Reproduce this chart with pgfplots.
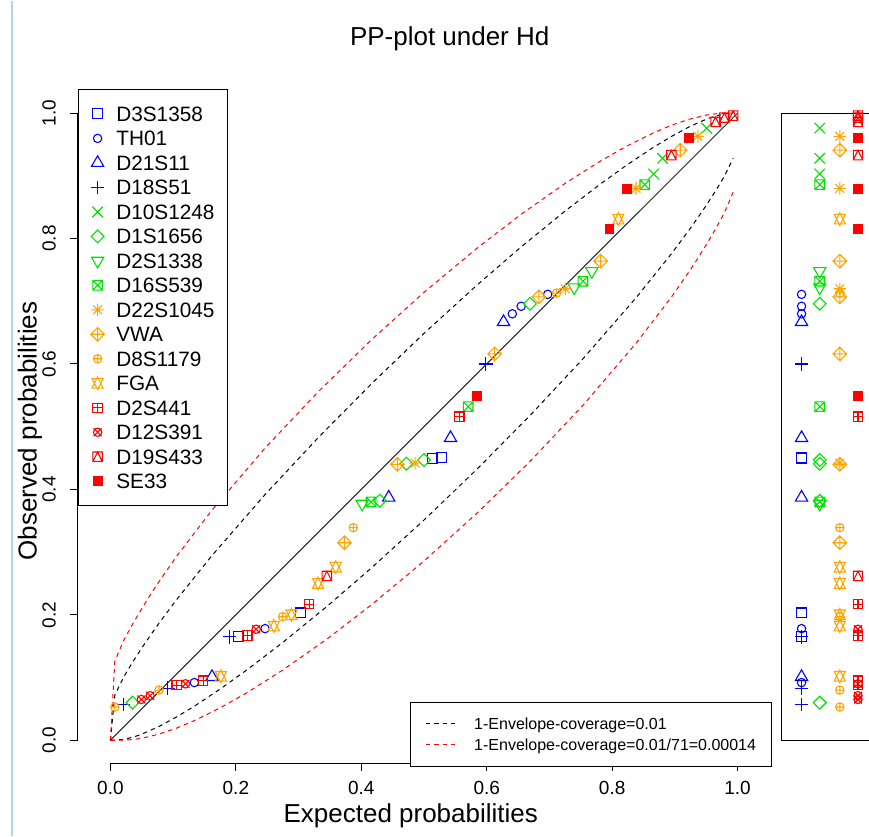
\documentclass[border=0pt]{standalone}
\usepackage{fontspec}
\setmainfont{Liberation Sans}
\usepackage{pgfplots}
\usepackage{pgfplotstable}
\pgfplotsset{compat=1.18}
\usetikzlibrary{plotmarks}

\definecolor{Rblue}{RGB}{0,0,255}
\definecolor{Rgreen}{RGB}{0,225,0}
\definecolor{Rorange}{RGB}{255,165,0}
\definecolor{Rred}{RGB}{255,0,0}
\definecolor{edgeblue}{RGB}{175,212,240}

\pgfdeclareplotmark{Rdiamond}{%
 \pgfpathmoveto{\pgfqpoint{0pt}{\pgfplotmarksize}}%
 \pgfpathlineto{\pgfqpoint{\pgfplotmarksize}{0pt}}%
 \pgfpathlineto{\pgfqpoint{0pt}{-\pgfplotmarksize}}%
 \pgfpathlineto{\pgfqpoint{-\pgfplotmarksize}{0pt}}%
 \pgfpathclose\pgfusepathqstroke}
\pgfdeclareplotmark{Rdplus}{%
 \pgfpathmoveto{\pgfqpoint{0pt}{\pgfplotmarksize}}%
 \pgfpathlineto{\pgfqpoint{\pgfplotmarksize}{0pt}}%
 \pgfpathlineto{\pgfqpoint{0pt}{-\pgfplotmarksize}}%
 \pgfpathlineto{\pgfqpoint{-\pgfplotmarksize}{0pt}}%
 \pgfpathclose
 \pgfpathmoveto{\pgfqpoint{0pt}{\pgfplotmarksize}}\pgfpathlineto{\pgfqpoint{0pt}{-\pgfplotmarksize}}%
 \pgfpathmoveto{\pgfqpoint{-\pgfplotmarksize}{0pt}}\pgfpathlineto{\pgfqpoint{\pgfplotmarksize}{0pt}}%
 \pgfusepathqstroke}
\pgfdeclareplotmark{Rdown}{%
 \pgfpathmoveto{\pgfqpoint{0pt}{-\pgfplotmarksize}}%
 \pgfpathlineto{\pgfqpoint{.8660254\pgfplotmarksize}{.5\pgfplotmarksize}}%
 \pgfpathlineto{\pgfqpoint{-.8660254\pgfplotmarksize}{.5\pgfplotmarksize}}%
 \pgfpathclose\pgfusepathqstroke}
\pgfdeclareplotmark{Rsqx}{%
 \pgfpathrectangle{\pgfqpoint{-\pgfplotmarksize}{-\pgfplotmarksize}}{\pgfqpoint{2\pgfplotmarksize}{2\pgfplotmarksize}}%
 \pgfpathmoveto{\pgfqpoint{-\pgfplotmarksize}{-\pgfplotmarksize}}\pgfpathlineto{\pgfqpoint{\pgfplotmarksize}{\pgfplotmarksize}}%
 \pgfpathmoveto{\pgfqpoint{-\pgfplotmarksize}{\pgfplotmarksize}}\pgfpathlineto{\pgfqpoint{\pgfplotmarksize}{-\pgfplotmarksize}}%
 \pgfusepathqstroke}
\pgfdeclareplotmark{Rsqplus}{%
 \pgfpathrectangle{\pgfqpoint{-\pgfplotmarksize}{-\pgfplotmarksize}}{\pgfqpoint{2\pgfplotmarksize}{2\pgfplotmarksize}}%
 \pgfpathmoveto{\pgfqpoint{0pt}{-\pgfplotmarksize}}\pgfpathlineto{\pgfqpoint{0pt}{\pgfplotmarksize}}%
 \pgfpathmoveto{\pgfqpoint{-\pgfplotmarksize}{0pt}}\pgfpathlineto{\pgfqpoint{\pgfplotmarksize}{0pt}}%
 \pgfusepathqstroke}
\pgfdeclareplotmark{Rsqtri}{%
 \pgfpathrectangle{\pgfqpoint{-\pgfplotmarksize}{-\pgfplotmarksize}}{\pgfqpoint{2\pgfplotmarksize}{2\pgfplotmarksize}}%
 \pgfpathmoveto{\pgfqpoint{-\pgfplotmarksize}{-\pgfplotmarksize}}%
 \pgfpathlineto{\pgfqpoint{0pt}{\pgfplotmarksize}}%
 \pgfpathlineto{\pgfqpoint{\pgfplotmarksize}{-\pgfplotmarksize}}%
 \pgfusepathqstroke}
\pgfdeclareplotmark{Rast}{%
 \pgfpathmoveto{\pgfqpoint{0pt}{-\pgfplotmarksize}}\pgfpathlineto{\pgfqpoint{0pt}{\pgfplotmarksize}}%
 \pgfpathmoveto{\pgfqpoint{-\pgfplotmarksize}{0pt}}\pgfpathlineto{\pgfqpoint{\pgfplotmarksize}{0pt}}%
 \pgfpathmoveto{\pgfqpoint{-.7071\pgfplotmarksize}{-.7071\pgfplotmarksize}}\pgfpathlineto{\pgfqpoint{.7071\pgfplotmarksize}{.7071\pgfplotmarksize}}%
 \pgfpathmoveto{\pgfqpoint{-.7071\pgfplotmarksize}{.7071\pgfplotmarksize}}\pgfpathlineto{\pgfqpoint{.7071\pgfplotmarksize}{-.7071\pgfplotmarksize}}%
 \pgfusepathqstroke}
\pgfdeclareplotmark{Rdavid}{%
 \pgfpathmoveto{\pgfqpoint{0pt}{\pgfplotmarksize}}%
 \pgfpathlineto{\pgfqpoint{.866\pgfplotmarksize}{-.75\pgfplotmarksize}}%
 \pgfpathlineto{\pgfqpoint{-.866\pgfplotmarksize}{-.75\pgfplotmarksize}}%
 \pgfpathclose
 \pgfpathmoveto{\pgfqpoint{0pt}{-\pgfplotmarksize}}%
 \pgfpathlineto{\pgfqpoint{.866\pgfplotmarksize}{.75\pgfplotmarksize}}%
 \pgfpathlineto{\pgfqpoint{-.866\pgfplotmarksize}{.75\pgfplotmarksize}}%
 \pgfpathclose\pgfusepathqstroke}
\pgfdeclareplotmark{Rotimes}{%
 \pgfpathcircle{\pgfpointorigin}{\pgfplotmarksize}%
 \pgfpathmoveto{\pgfqpoint{-.95\pgfplotmarksize}{-.95\pgfplotmarksize}}\pgfpathlineto{\pgfqpoint{.95\pgfplotmarksize}{.95\pgfplotmarksize}}%
 \pgfpathmoveto{\pgfqpoint{-.95\pgfplotmarksize}{.95\pgfplotmarksize}}\pgfpathlineto{\pgfqpoint{.95\pgfplotmarksize}{-.95\pgfplotmarksize}}%
 \pgfusepathqstroke}

\pgfplotsset{
  mk/.style={only marks, mark options={solid,line width=0.55pt},
    legend image code/.code={\draw[##1] plot coordinates {(0pt,0pt)};}},
  sA/.style={mk,Rblue,mark=square,mark size=2.5pt},
  sB/.style={mk,Rblue,mark=o,mark size=2.1pt},
  sC/.style={mk,Rblue,mark=triangle,mark size=3.55pt},
  sD/.style={mk,Rblue,mark=+,mark size=3.4pt},
  sE/.style={mk,Rgreen,mark=x,mark size=3.7pt},
  sF/.style={mk,Rgreen,mark=Rdiamond,mark size=3.2pt},
  sG/.style={mk,Rgreen,mark=Rdown,mark size=3.55pt},
  sH/.style={mk,Rgreen,mark=Rsqx,mark size=2.4pt},
  sI/.style={mk,Rorange,mark=Rast,mark size=3.1pt},
  sJ/.style={mk,Rorange,mark=Rdplus,mark size=3.4pt},
  sK/.style={mk,Rorange,mark=oplus,mark size=2.1pt},
  sL/.style={mk,Rorange,mark=Rdavid,mark size=3.2pt},
  sM/.style={mk,Rred,mark=Rsqplus,mark size=2.35pt},
  sN/.style={mk,Rred,mark=Rotimes,mark size=2.1pt},
  sO/.style={mk,Rred,mark=Rsqtri,mark size=2.35pt},
  sP/.style={mk,Rred,mark=square*,mark size=2.2pt},
  env/.style={line width=0.5pt, dash pattern=on 2.2pt off 2pt},
}

% ---- data: x = expected, y = observed, s = strip position
\pgfplotstableread{
x y s
0.2042 0.166 1.102
0.3028 0.203 1.102
0.5141 0.449 1.102
0.5282 0.451 1.102
}\tA
\pgfplotstableread{
x y s
0.1338 0.092 1.102
0.2465 0.178 1.102
0.6408 0.680 1.102
0.6549 0.692 1.102
0.6972 0.711 1.102
}\tB
\pgfplotstableread{
x y s
0.1620 0.101 1.102
0.4437 0.387 1.102
0.5423 0.482 1.102
0.6268 0.667 1.102
}\tC
\pgfplotstableread{
x y s
0.0211 0.057 1.102
0.0915 0.083 1.102
0.1901 0.165 1.102
0.5986 0.600 1.102
}\tD
\pgfplotstableread{
x y s
0.8662 0.903 1.131
0.8803 0.928 1.131
0.9507 0.976 1.131
}\tE
\pgfplotstableread{
x y s
0.0352 0.060 1.131
0.4296 0.382 1.131
0.4718 0.441 1.131
0.5000 0.447 1.131
0.6690 0.696 1.131
}\tF
\pgfplotstableread{
x y s
0.4014 0.377 1.131
0.7394 0.722 1.131
0.7676 0.748 1.131
}\tG
\pgfplotstableread{
x y s
0.4155 0.380 1.131
0.5704 0.532 1.131
0.7535 0.732 1.131
0.8521 0.886 1.131
}\tH
\pgfplotstableread{
x y s
0.4859 0.442 1.163
0.7254 0.720 1.163
0.8380 0.880 1.163
0.9366 0.963 1.163
}\tI
\pgfplotstableread{
x y s
0.3732 0.315 1.163
0.4577 0.440 1.163
0.6127 0.616 1.163
0.6831 0.707 1.163
0.7817 0.764 1.163
0.9085 0.941 1.163
}\tJ
\pgfplotstableread{
x y s
0.0070 0.053 1.163
0.0775 0.080 1.163
0.2746 0.197 1.163
0.3873 0.339 1.163
0.7113 0.713 1.163
}\tK
\pgfplotstableread{
x y s
0.1761 0.102 1.163
0.2606 0.182 1.163
0.2887 0.200 1.163
0.3310 0.250 1.163
0.3592 0.276 1.163
0.8099 0.831 1.163
}\tL
\pgfplotstableread{
x y s
0.1056 0.088 1.192
0.1479 0.095 1.192
0.2183 0.167 1.192
0.3169 0.217 1.192
0.5563 0.516 1.192
}\tM
\pgfplotstableread{
x y s
0.0493 0.065 1.192
0.0634 0.071 1.192
0.1197 0.090 1.192
0.2324 0.177 1.192
}\tN
\pgfplotstableread{
x y s
0.3451 0.262 1.192
0.8944 0.933 1.192
0.9648 0.986 1.192
0.9789 0.993 1.192
0.9930 0.996 1.192
}\tO
\pgfplotstableread{
x y s
0.5845 0.549 1.192
0.7958 0.815 1.192
0.8239 0.879 1.192
0.9225 0.960 1.192
}\tP

% ---- envelopes
\pgfplotstableread{
x y
0 0
0.0070 0.0719
0.0211 0.1009
0.0352 0.1242
0.0493 0.1461
0.0634 0.1668
0.0775 0.1867
0.1056 0.2244
0.1620 0.2946
0.2465 0.3917
0.3310 0.4822
0.4155 0.5677
0.5000 0.6488
0.5845 0.7258
0.6549 0.7867
0.7254 0.8442
0.7817 0.8873
0.8239 0.9176
0.8662 0.9457
0.8944 0.9627
0.9225 0.9780
0.9507 0.9906
0.9648 0.9953
0.9789 0.9986
0.9930 0.9999
}\BU
\pgfplotstableread{
x y
0 0
0.0070 0.0001
0.0211 0.0014
0.0352 0.0047
0.0493 0.0094
0.0775 0.0220
0.1056 0.0373
0.1338 0.0543
0.1761 0.0824
0.2183 0.1127
0.2746 0.1558
0.3451 0.2133
0.4155 0.2742
0.5000 0.3512
0.5845 0.4323
0.6690 0.5178
0.7535 0.6083
0.8380 0.7054
0.8944 0.7756
0.9225 0.8133
0.9366 0.8332
0.9507 0.8539
0.9648 0.8758
0.9789 0.8991
0.9930 0.9281
}\BL
\pgfplotstableread{
x y
0 0
0.0070 0.1260
0.0211 0.1590
0.0352 0.1850
0.0493 0.2088
0.0634 0.2316
0.0775 0.2531
0.1056 0.2935
0.1620 0.3671
0.2465 0.4659
0.3310 0.5554
0.4155 0.6379
0.5000 0.7142
0.5845 0.7846
0.6549 0.8387
0.7254 0.8882
0.7817 0.9238
0.8239 0.9478
0.8662 0.9687
0.8944 0.9806
0.9225 0.9902
0.9507 0.9970
0.9648 0.9989
0.9789 0.9999
0.9930 1.0000
}\RU
\pgfplotstableread{
x y
0 0
0.0070 0.0000
0.0211 0.0001
0.0352 0.0011
0.0493 0.0030
0.0775 0.0098
0.1056 0.0194
0.1338 0.0313
0.1761 0.0523
0.2183 0.0762
0.2746 0.1119
0.3451 0.1613
0.4155 0.2154
0.5000 0.2858
0.5845 0.3621
0.6690 0.4446
0.7535 0.5341
0.8380 0.6329
0.8944 0.7065
0.9225 0.7469
0.9366 0.7685
0.9507 0.7912
0.9648 0.8150
0.9789 0.8410
0.9930 0.8740
}\RL

\begin{document}
\begin{tikzpicture}
\begin{axis}[
  name=env,
  at={(0,0)}, anchor=south west,
  scale only axis, width=395.57pt, height=338.25pt,
  xmin=-0.052, xmax=1.20876, ymin=-0.0375, ymax=1.0406,
  enlargelimits=false, clip=false,
  axis lines*=left, axis line style={draw=none},
  tick align=outside, major tick length=3.75pt,
  tick style={black, line width=0.5pt},
  xtick={0,0.2,0.4,0.6,0.8,1}, xticklabels={0.0,0.2,0.4,0.6,0.8,1.0},
  ytick={0,0.2,0.4,0.6,0.8,1}, yticklabels={0.0,0.2,0.4,0.6,0.8,1.0},
  xticklabel style={font=\fontsize{9.5}{11}\selectfont, inner sep=0pt, anchor=north},
  yticklabel style={font=\fontsize{9.5}{11}\selectfont, inner sep=0pt, rotate=90, anchor=south},
  xticklabel shift=4.75pt, yticklabel shift=7pt,
  legend cell align=left,
  legend image code/.code={\draw[#1] (0pt,0pt) -- (16.5pt,0pt);},
  legend style={at={(0.41983,0.09169)}, anchor=north west, draw=black, line width=0.5pt,
    inner xsep=7.5pt, inner ysep=5.6pt, font=\fontsize{8}{9.6}\selectfont, row sep=0pt,
    nodes={inner sep=0pt, text height=8.04pt, text depth=2.31pt},
    /tikz/every odd column/.append style={column sep=7.5pt}},
]
\path (axis cs:-0.176096,-0.152191) rectangle (axis cs:1.208765,1.178486);
\draw[edgeblue, line width=1.2pt] (axis cs:-0.15697,-0.152191) -- (axis cs:-0.15697,1.178486);
\draw[line width=0.5pt] (axis cs:-0.052,0) -- (axis cs:-0.052,1);
\draw[line width=0.5pt] (axis cs:0,-0.0375) -- (axis cs:1,-0.0375);
\draw[line width=0.5pt] (axis cs:1.20876,1.0) -- (axis cs:1.070,1.0) -- (axis cs:1.070,0.0) -- (axis cs:1.20876,0.0);

\addplot[black, env] table[x=x,y=y] {\BU};
\addlegendentry{1-Envelope-coverage=0.01}
\addplot[Rred, env] table[x=x,y=y] {\RU};
\addlegendentry{1-Envelope-coverage=0.01/71=0.00014}
\addplot[black, env, forget plot] table[x=x,y=y] {\BL};
\addplot[Rred, env, forget plot] table[x=x,y=y] {\RL};
\addplot[black!85, line width=0.5pt, forget plot] coordinates {(0,0) (1,1)};

\node[font=\fontsize{13}{15}\selectfont] at (axis cs:0.5410,1.1179) {PP-plot under Hd};
\node[font=\fontsize{13}{15}\selectfont] at (axis cs:0.4789,-0.1203) {Expected probabilities};
\node[font=\fontsize{13}{15}\selectfont, rotate=90] at (axis cs:-0.1283,0.4932) {Observed probabilities};
\end{axis}

\begin{axis}[
  at={(env.south west)}, anchor=south west,
  scale only axis, width=395.57pt, height=338.25pt,
  xmin=-0.052, xmax=1.20876, ymin=-0.0375, ymax=1.0406,
  enlargelimits=false, clip=false, hide axis,
  legend cell align=left,
  legend style={at={(0,0.99833)}, anchor=north west, draw=black, line width=0.5pt,
    inner xsep=6.25pt, inner ysep=6.2pt, font=\fontsize{10.4}{12.5}\selectfont, row sep=0pt,
    nodes={inner sep=0pt, text height=9.85pt, text depth=2.4pt},
    /tikz/every odd column/.append style={column sep=5.95pt}},
]
\addplot[sA] table[x=x,y=y] {\tA}; \addlegendentry{D3S1358}
\addplot[sB] table[x=x,y=y] {\tB}; \addlegendentry{TH01}
\addplot[sC] table[x=x,y=y] {\tC}; \addlegendentry{D21S11}
\addplot[sD] table[x=x,y=y] {\tD}; \addlegendentry{D18S51}
\addplot[sE] table[x=x,y=y] {\tE}; \addlegendentry{D10S1248}
\addplot[sF] table[x=x,y=y] {\tF}; \addlegendentry{D1S1656}
\addplot[sG] table[x=x,y=y] {\tG}; \addlegendentry{D2S1338}
\addplot[sH] table[x=x,y=y] {\tH}; \addlegendentry{D16S539}
\addplot[sI] table[x=x,y=y] {\tI}; \addlegendentry{D22S1045}
\addplot[sJ] table[x=x,y=y] {\tJ}; \addlegendentry{VWA}
\addplot[sK] table[x=x,y=y] {\tK}; \addlegendentry{D8S1179}
\addplot[sL] table[x=x,y=y] {\tL}; \addlegendentry{FGA}
\addplot[sM] table[x=x,y=y] {\tM}; \addlegendentry{D2S441}
\addplot[sN] table[x=x,y=y] {\tN}; \addlegendentry{D12S391}
\addplot[sO] table[x=x,y=y] {\tO}; \addlegendentry{D19S433}
\addplot[sP] table[x=x,y=y] {\tP}; \addlegendentry{SE33}
\addplot[sA, forget plot] table[x=s,y=y] {\tA};
\addplot[sB, forget plot] table[x=s,y=y] {\tB};
\addplot[sC, forget plot] table[x=s,y=y] {\tC};
\addplot[sD, forget plot] table[x=s,y=y] {\tD};
\addplot[sE, forget plot] table[x=s,y=y] {\tE};
\addplot[sF, forget plot] table[x=s,y=y] {\tF};
\addplot[sG, forget plot] table[x=s,y=y] {\tG};
\addplot[sH, forget plot] table[x=s,y=y] {\tH};
\addplot[sI, forget plot] table[x=s,y=y] {\tI};
\addplot[sJ, forget plot] table[x=s,y=y] {\tJ};
\addplot[sK, forget plot] table[x=s,y=y] {\tK};
\addplot[sL, forget plot] table[x=s,y=y] {\tL};
\addplot[sM, forget plot] table[x=s,y=y] {\tM};
\addplot[sN, forget plot] table[x=s,y=y] {\tN};
\addplot[sO, forget plot] table[x=s,y=y] {\tO};
\addplot[sP, forget plot] table[x=s,y=y] {\tP};
\end{axis}
\end{tikzpicture}
\end{document}
